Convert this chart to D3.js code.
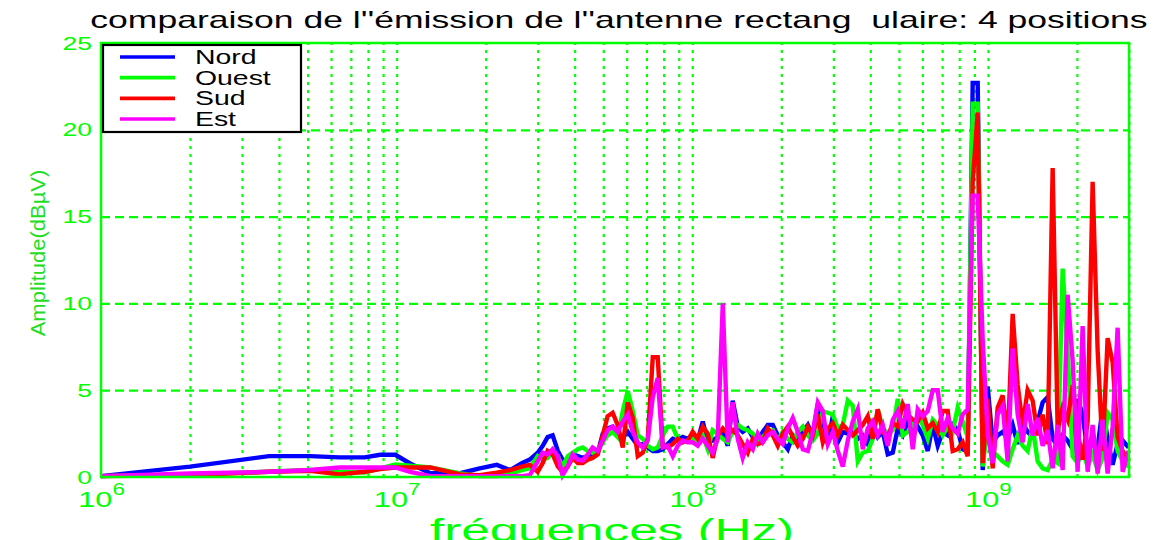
<!DOCTYPE html>
<html>
<head>
<meta charset="utf-8">
<script src="https://cdn.jsdelivr.net/npm/d3@7"></script>
<style>
  body { margin: 0; background: #ffffff; }
  svg { display: block; }
  text { font-family: "Liberation Sans", Arial, sans-serif; }
</style>
</head>
<body>
<svg id="chart" width="1167" height="540"></svg>
<script>
// Frequencies of the sweep points, in MHz
const freqMHz = [
  1, 2, 3.7, 5.1, 6.4, 7.8, 8.8, 9.9, 11.1, 13.0, 16.4, 19.1, 21.8, 24.2, 26.5, 28.2,
  30.0, 31.2, 32.4, 33.7, 35.1, 36.4, 37.9, 39.4, 41.0, 42.6,
  44.3, 46.0, 47.9, 49.8, 51.7, 53.8, 55.9, 58.2, 60.5, 62.9,
  65.4, 68.0, 70.7, 73.5, 76.4, 79.4, 82.6, 85.9, 89.3, 92.8,
  96.5, 100.3, 104.3, 108.5, 112.8, 117.2, 121.9, 126.8, 131.8, 137.0,
  142.5, 148.1, 154.0, 160.2, 166.5, 173.1, 180.0, 187.2, 194.6, 202.3,
  210.4, 218.7, 227.4, 236.5, 245.9, 255.6, 265.8, 276.3, 287.3, 298.7,
  310.6, 322.9, 335.7, 349.0, 362.9, 377.3, 392.2, 407.8, 424.0, 440.8,
  458.3, 476.5, 495.4, 515.0, 535.5, 556.7, 578.8, 601.8, 625.7, 650.5,
  676.3, 703.1, 731.0, 760.0, 790.2, 821.5, 854.1, 888.0, 923.3, 959.9,
  998.0, 1037.6, 1078.8, 1121.6, 1166.1, 1212.4, 1260.5, 1310.6, 1362.6, 1416.7,
  1472.9, 1531.4, 1592.2, 1655.4, 1721.0, 1789.4, 1860.4, 1934.2, 2011.0, 2090.8,
  2173.8, 2260.1, 2349.8, 2443.1, 2540.0, 2640.9, 2745.7, 2854.7, 2990.0
];

// Amplitudes (dBµV) for each antenna position
const nord = [
  0.05, 0.6, 1.2, 1.2, 1.13, 1.13, 1.28, 1.28, 0.78, 0.22, 0.22, 0.5, 0.7, 0.4, 0.8, 1.0,
  1.4, 1.8, 2.3, 2.4, 1.5, 1.0, 0.9, 1.3, 1.2, 1.1,
  1.2, 1.3, 1.4, 2.5, 2.8, 2.9, 2.4, 2.3, 2.6, 2.2,
  1.8, 1.9, 1.7, 1.5, 1.5, 1.6, 1.9, 2.2, 2.1, 2.3,
  2.2, 2.4, 2.1, 3.2, 2.0, 2.1, 2.3, 2.6, 1.8, 4.4,
  2.9, 2.6, 2.8, 2.3, 2.0, 2.6, 3.0, 3.0, 2.4, 2.0,
  1.6, 2.4, 2.1, 2.6, 3.0, 2.4, 4.2, 3.3, 1.9, 3.5,
  2.0, 2.6, 2.5, 2.6, 2.2, 2.4, 1.9, 3.0, 2.3, 2.6,
  1.3, 1.4, 2.8, 2.4, 3.2, 2.6, 2.9, 2.4, 1.5, 3.0,
  1.8, 2.6, 2.4, 3.0, 2.7, 1.6, 1.5, 22.7, 22.7, 0.4,
  5.2, 2.0, 2.4, 2.6, 2.2, 3.0, 1.9, 3.1, 2.6, 2.3,
  3.2, 4.3, 4.6, 2.2, 1.8, 2.4, 2.1, 1.6, 4.5, 3.6,
  1.4, 2.0, 1.7, 4.0, 2.2, 0.7, 1.9, 2.1, 1.7
];
const ouest = [
  0.05, 0.15, 0.3, 0.4, 0.3, 0.25, 0.5, 0.72, 0.65, 0.55, 0.2, 0.05, 0.05, 0.2, 0.4, 0.5,
  1.2, 1.0, 1.1, 1.4, 1.2, 0.6, 1.2, 1.4, 1.6, 1.7,
  1.5, 1.4, 1.5, 2.0, 2.4, 2.6, 2.3, 3.8, 4.95, 3.8,
  2.4, 2.2, 1.8, 1.6, 1.7, 2.4, 2.9, 2.9, 2.2, 2.0,
  2.1, 2.2, 2.0, 2.4, 1.6, 2.7, 2.5, 2.2, 2.0, 2.6,
  3.0, 2.8, 2.7, 2.5, 1.9, 2.3, 2.6, 2.7, 2.1, 2.6,
  2.2, 2.0, 2.6, 2.9, 2.4, 2.1, 2.5, 3.8, 3.7, 3.6,
  2.8, 3.0, 4.4, 4.1, 0.9, 1.4, 1.5, 2.2, 3.9, 2.8,
  2.5, 2.7, 4.5, 2.4, 2.6, 3.0, 3.5, 3.0, 2.2, 3.3,
  3.0, 2.4, 2.9, 2.6, 4.0, 3.2, 2.3, 21.5, 21.5, 0.6,
  3.0, 1.5, 1.2, 0.9, 0.7, 1.6, 2.4, 1.8, 1.5, 2.9,
  0.9, 0.5, 0.4, 1.0, 0.8, 12.0, 7.2, 1.2, 0.8, 1.5,
  0.6, 1.3, 0.4, 1.1, 3.7, 3.3, 1.5, 0.9, 0.6
];
const sud = [
  0.05, 0.1, 0.3, 0.36, 0.15, 0.3, 0.45, 0.55, 0.55, 0.55, 0.15, 0.1, 0.25, 0.4, 0.6, 0.7,
  0.3, 0.8, 1.5, 1.3, 0.6, 0.3, 0.6, 1.1, 0.8, 0.8,
  1.0, 1.1, 1.3, 2.4, 3.5, 3.7, 3.0, 1.7, 4.3, 3.4,
  1.2, 1.4, 2.2, 6.9, 6.9, 1.8, 1.7, 1.9, 2.2, 2.0,
  2.1, 2.6, 2.2, 2.9, 2.5, 1.1, 2.4, 2.8, 2.5, 2.7,
  2.4, 1.9, 1.4, 2.2, 1.9, 2.0, 2.8, 2.4, 1.8, 2.5,
  2.9, 2.3, 1.8, 2.2, 2.9, 2.4, 3.6, 2.0, 2.8, 3.1,
  2.4, 3.0, 2.7, 2.4, 2.7, 3.0, 3.5, 2.2, 3.9, 2.6,
  2.3, 3.1, 2.9, 4.2, 3.6, 3.3, 3.2, 3.7, 2.8, 3.1,
  2.6, 3.8, 3.8, 1.5, 1.6, 2.0, 1.2, 17.0, 21.0, 0.8,
  4.5, 0.5, 4.0, 4.7, 2.0, 9.4, 5.3, 3.0, 5.0, 4.4,
  2.4, 3.6, 1.9, 17.8, 2.7, 4.0, 3.3, 5.3, 2.6, 1.0,
  3.2, 17.0, 7.3, 1.5, 8.0, 6.6, 2.3, 1.5, 0.9
];
const est = [
  0.05, 0.2, 0.3, 0.4, 0.55, 0.55, 0.55, 0.55, 0.3, 0.05, 0.05, 0.05, 0.05, 0.05, 0.05, 0.1,
  0.9, 1.4, 1.3, 1.6, 1.2, 0.1, 0.6, 1.3, 1.0, 0.95,
  1.3, 1.7, 1.5, 2.1, 2.7, 2.9, 2.6, 3.2, 3.6, 2.6,
  2.0, 1.7, 2.1, 4.6, 5.7, 1.7, 1.8, 1.2, 1.8, 2.1,
  2.0, 2.0, 1.8, 2.2, 1.8, 1.4, 2.2, 10.0, 2.0, 4.3,
  2.2, 1.1, 2.0, 1.6, 2.5, 2.0, 2.4, 2.6, 2.2, 1.9,
  2.8, 3.4, 2.6, 1.6, 1.5, 2.6, 4.3, 3.8, 1.9, 2.6,
  1.5, 0.6, 2.1, 3.2, 3.9, 1.6, 2.8, 3.2, 2.4, 3.0,
  1.8, 3.3, 3.8, 2.8, 4.2, 1.6, 3.9, 3.5, 3.8, 5.0,
  5.0, 2.6, 3.4, 2.8, 2.5, 3.6, 3.9, 16.2, 16.2, 7.9,
  2.5, 0.8, 3.6, 4.1, 0.9, 7.4, 3.6, 2.0, 4.2, 2.4,
  3.4, 1.8, 2.7, 0.5, 3.0, 0.4, 10.5, 6.7, 0.3, 8.7,
  0.3, 3.0, 0.2, 3.3, 0.2, 2.9, 8.6, 0.3, 1.5
];

const seriesNames = ["Nord", "Ouest", "Sud", "Est"];
const seriesValues = [nord, ouest, sud, est];
const seriesColors = ["#0000ff", "#00ff00", "#ff0000", "#ff00ff"];

const yTicks = [0, 5, 10, 15, 20, 25];
const xDecades = [1e6, 1e7, 1e8, 1e9];
const xDecadeExponents = ["6", "7", "8", "9"];

const titleText = "comparaison de l''émission de l''antenne rectang  ulaire: 4 positions";
const xLabelText = "fréquences (Hz)";
const yLabelText = "Amplitude(dBµV)";

// ---- layout ----
const plot = { left: 101, right: 1129, top: 43, bottom: 477 };
const green = "#00ff00";

const svg = d3.select("#chart");

const x = d3.scaleLog().domain([1e6, 3e9]).range([plot.left, plot.right]);
const y = d3.scaleLinear().domain([0, 25]).range([plot.bottom, plot.top]);

// stretch a text horizontally while keeping its anchor point in place
function stretchX(sel, sx) {
  sel.attr("transform", function () {
    const ax = +(this.getAttribute("x") || 0);
    return `translate(${ax * (1 - sx)},0) scale(${sx},1)`;
  });
}

// ---- grid ----
const minorTicks = [];
for (let e = 6; e <= 9; e++) {
  for (let k = 1; k <= 9; k++) {
    const v = k * Math.pow(10, e);
    if (v > 1e6 && v <= 3e9) minorTicks.push(v);
  }
}

const vGrid = svg.append("g")
  .attr("transform", `translate(0,${plot.bottom})`)
  .call(d3.axisBottom(x).tickValues(minorTicks).tickSize(-(plot.bottom - plot.top)).tickFormat(""));
vGrid.select(".domain").remove();
vGrid.selectAll("line")
  .attr("stroke", green).attr("stroke-width", 2.2).attr("stroke-dasharray", "3,5");

const hGrid = svg.append("g")
  .attr("transform", `translate(${plot.left},0)`)
  .call(d3.axisLeft(y).tickValues([5, 10, 15, 20]).tickSize(-(plot.right - plot.left)).tickFormat(""));
hGrid.select(".domain").remove();
hGrid.selectAll("line")
  .attr("stroke", green).attr("stroke-width", 2.2).attr("stroke-dasharray", "9,5");

// ---- series ----
const line = d3.line()
  .x(d => x(d.f))
  .y(d => y(d.v));

seriesValues.forEach((vals, si) => {
  const pts = freqMHz.map((f, i) => ({ f: f * 1e6, v: vals[i] }))
    .filter(d => d.v !== undefined);
  svg.append("path")
    .datum(pts)
    .attr("d", line)
    .attr("fill", "none")
    .attr("stroke", seriesColors[si])
    .attr("stroke-width", 4.4)
    .attr("stroke-linejoin", "miter");
});

// ---- frame ----
svg.append("rect")
  .attr("x", plot.left).attr("y", plot.top)
  .attr("width", plot.right - plot.left).attr("height", plot.bottom - plot.top)
  .attr("fill", "none").attr("stroke", green).attr("stroke-width", 2.5);

// ---- axes ----
const yAxis = svg.append("g")
  .attr("transform", `translate(${plot.left},0)`)
  .call(d3.axisLeft(y).tickValues(yTicks).tickSize(0).tickPadding(9));
yAxis.select(".domain").remove();
yAxis.selectAll("text")
  .attr("fill", green).attr("font-size", 19)
  .attr("font-family", "Liberation Sans, Arial, sans-serif")
  .call(stretchX, 1.4);

const xAxis = svg.append("g")
  .attr("transform", `translate(0,${plot.bottom})`)
  .call(d3.axisBottom(x).tickValues(xDecades).tickSize(0).tickFormat(""));
xAxis.select(".domain").remove();
xAxis.selectAll(".tick").each(function (d, i) {
  const t = d3.select(this).append("text")
    .attr("x", 0).attr("y", 30)
    .attr("text-anchor", "middle")
    .attr("fill", green)
    .attr("font-size", 22)
    .attr("font-family", "Liberation Sans, Arial, sans-serif");
  t.append("tspan").text("10");
  t.append("tspan").attr("dy", -12).attr("font-size", 16).text(xDecadeExponents[i]);
  t.call(stretchX, 1.4);
});

// ---- titles ----
svg.append("text")
  .attr("x", 619).attr("y", 28)
  .attr("text-anchor", "middle")
  .attr("font-size", 24)
  .attr("fill", "#000000")
  .style("white-space", "pre")
  .text(titleText)
  .call(stretchX, 1.48);

svg.append("text")
  .attr("x", 612).attr("y", 541)
  .attr("text-anchor", "middle")
  .attr("font-size", 32)
  .attr("fill", green)
  .text(xLabelText)
  .call(stretchX, 1.6);

svg.append("text")
  .attr("transform", "translate(38,253) rotate(-90) scale(1,0.95)")
  .attr("text-anchor", "middle")
  .attr("dominant-baseline", "central")
  .attr("font-size", 22)
  .attr("fill", "#22dd22")
  .text(yLabelText);

// ---- legend ----
const legend = svg.append("g");
legend.append("rect")
  .attr("x", 103).attr("y", 45).attr("width", 198).attr("height", 87)
  .attr("fill", "#ffffff").attr("stroke", "#000000").attr("stroke-width", 2.2);

const legendRow = d3.scalePoint().domain(seriesNames).range([57, 119]);
seriesNames.forEach((name, i) => {
  const ly = legendRow(name);
  legend.append("line")
    .attr("x1", 120).attr("x2", 175).attr("y1", ly).attr("y2", ly)
    .attr("stroke", seriesColors[i]).attr("stroke-width", 3.6);
  legend.append("text")
    .attr("x", 195).attr("y", ly + 7)
    .attr("font-size", 20)
    .attr("fill", "#000000")
    .text(name)
    .call(stretchX, 1.42);
});
</script>
</body>
</html>
